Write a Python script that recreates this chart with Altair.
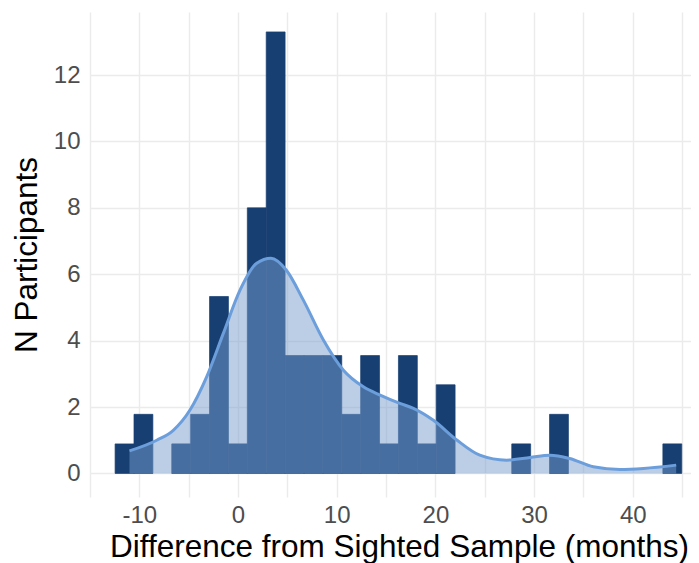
import altair as alt
import pandas as pd

# Histogram (30 bins, ggplot-style)
bin_low = -12.457
bin_width = 1.914
bar_heights = [0.89, 1.78, 0, 0.89, 1.78, 5.33, 0.89, 8.0, 13.3, 3.55,
               3.55, 3.55, 1.78, 3.55, 0.89, 3.55, 0.89, 2.67, 0, 0,
               0, 0.89, 0, 1.78, 0, 0, 0, 0, 0, 0.89]

# Density curve (scaled)
density_x = [-11.0, -8.24, -6.56, -4.87, -3.18, -1.49, 0.2, 1.89, 3.34, 4.9,
             6.62, 8.65, 10.68, 12.7, 14.4, 16.4, 17.77, 19.8, 22.2, 24.5,
             27.2, 29.6, 31.6, 33.6, 36.0, 38.7, 41.1, 44.4]
density_y = [0.68, 1.0, 1.30, 1.91, 2.91, 4.22, 5.52, 6.33, 6.48, 6.12,
             5.22, 4.02, 3.11, 2.61, 2.36, 2.11, 1.96, 1.6, 1.0, 0.55,
             0.40, 0.48, 0.55, 0.45, 0.2, 0.12, 0.15, 0.25]

x_ticks = list(range(-15, 50, 5))
y_ticks = list(range(0, 14))

lo = [bin_low + i * bin_width for i in range(len(bar_heights))]
bars_df = pd.DataFrame({"x0": lo, "x1": [v + bin_width for v in lo],
                        "h": bar_heights, "base": 0.0})
bars_df = bars_df[bars_df["h"] > 0]
dens_df = pd.DataFrame({"x": density_x, "y": density_y, "base": 0.0})

xscale = alt.Scale(domain=[-15.0, 45.9], nice=False, zero=False)
yscale = alt.Scale(domain=[-0.71, 13.9], nice=False, zero=False)

xaxis = alt.Axis(values=x_ticks,
                 labelExpr="datum.value % 10 == 0 ? '' + datum.value : ''",
                 title="Difference from Sighted Sample (months)",
                 titleBaseline="alphabetic", titleY=59, titleX=309,
                 labelBaseline="alphabetic", labelPadding=25)
yaxis = alt.Axis(values=y_ticks,
                 labelExpr="datum.value % 2 == 0 ? '' + datum.value : ''",
                 title="N Participants",
                 titleBaseline="alphabetic", titleX=-54,
                 labelPadding=10)

bars = alt.Chart(bars_df).mark_rect(color="#173f72", stroke="#173f72",
                                    strokeWidth=0.7).encode(
    x=alt.X("x0:Q", scale=xscale, axis=xaxis),
    x2="x1:Q",
    y=alt.Y("base:Q", scale=yscale, axis=yaxis),
    y2="h:Q",
)

area = alt.Chart(dens_df).mark_area(color="#779dce", opacity=0.5,
                                    interpolate="monotone").encode(
    x=alt.X("x:Q", scale=xscale),
    y=alt.Y("y:Q", scale=yscale),
    y2="base:Q",
)

line = alt.Chart(dens_df).mark_line(color="#6c9edb", strokeWidth=3,
                                    interpolate="monotone").encode(
    x=alt.X("x:Q", scale=xscale),
    y=alt.Y("y:Q", scale=yscale),
)

chart = alt.layer(bars, area, line).properties(
    width=601, height=485,
    padding={"left": 82, "top": 4, "right": 0, "bottom": 66},
    autosize=alt.AutoSizeParams(type="none"),
).configure_view(stroke=None).configure_axis(
    domain=False, ticks=False, grid=True, gridColor="#ebebeb", gridWidth=1.4,
    labelFont="Liberation Sans", titleFont="Liberation Sans",
    labelFontSize=24, titleFontSize=31.5, labelColor="#4d4d4d",
    titleColor="#000000", titleFontWeight="normal",
)

chart.save("out.html", embed_options={"renderer": "svg", "actions": False})
